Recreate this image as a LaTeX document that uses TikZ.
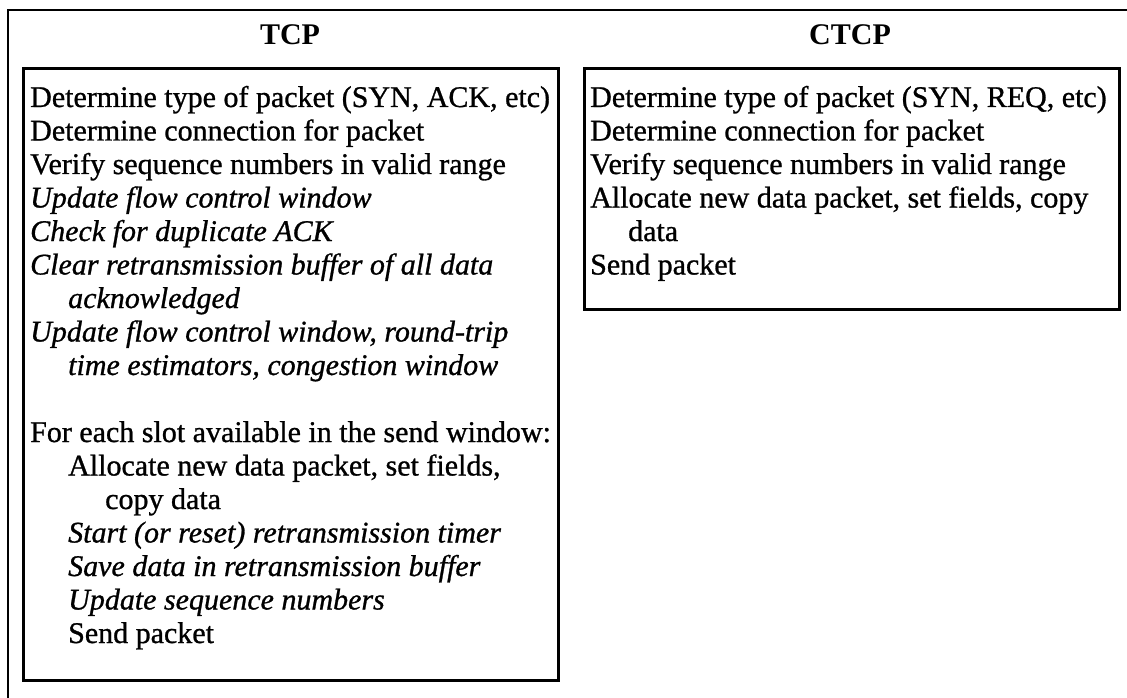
\documentclass[tikz,border=0pt]{standalone}
\usepackage{fontspec}
\setmainfont{Liberation Serif}
\newfontfamily\heavyserif[FakeBold=0.9]{Liberation Serif}
\begin{document}
\begin{tikzpicture}[x=1pt,y=-1pt,
  boxline/.style={line width=2.6pt},
  frameline/.style={line width=1.8pt},
  txt/.style={anchor=base west,inner sep=0pt,font=\fontsize{30}{33.5}\selectfont\heavyserif},
  itx/.style={txt,font=\fontsize{30}{33.5}\selectfont\heavyserif\itshape},
  ttl/.style={anchor=base,inner sep=0pt,font=\fontsize{30}{34}\selectfont\bfseries}]
\useasboundingbox (0,0) rectangle (1127,698);
% outer frame (top and left edges visible)
\coordinate (fl) at (8,698);
\coordinate (ftl) at (8,10);
\coordinate (fr) at (1127,10);
\draw[frameline] (fl) -- (ftl) -- (fr);
% titles
\node[ttl] (ttcp) at (290,45) {TCP};
\node[ttl] (tctcp) at (850,45) {CTCP};
% boxes
\node[draw,boxline,minimum width=535pt,minimum height=612pt,inner sep=0pt,anchor=north west] (tcpbox) at (22,67) {};
\node[draw,boxline,minimum width=535pt,minimum height=241pt,inner sep=0pt,anchor=north west] (ctcpbox) at (583,67) {};
% TCP text
\node[txt] (a1) at (30,107) {Determine type of packet (SYN, ACK, etc)};
\node[txt] (a2) at (30,140.5) {Determine connection for packet};
\node[txt] (a3) at (30,174) {Verify sequence numbers in valid range};
\node[itx] (a4) at (30,207.5) {Update flow control window};
\node[itx] (a5) at (30,241) {Check for duplicate ACK};
\node[itx] (a6) at (30,274.5) {Clear retransmission buffer of all data};
\node[itx] (a7) at (68,308) {acknowledged};
\node[itx] (a8) at (30,341.5) {Update flow control window, round-trip};
\node[itx] (a9) at (68,375) {time estimators, congestion window};
\node[txt] (a10) at (30,442) {For each slot available in the send window:};
\node[txt] (a11) at (68,475.5) {Allocate new data packet, set fields,};
\node[txt] (a12) at (105,509) {copy data};
\node[itx] (a13) at (68,542.5) {Start (or reset) retransmission timer};
\node[itx] (a14) at (68,576) {Save data in retransmission buffer};
\node[itx] (a15) at (68,609.5) {Update sequence numbers};
\node[txt] (a16) at (68,643) {Send packet};
% CTCP text
\node[txt] (b1) at (590,107) {Determine type of packet (SYN, REQ, etc)};
\node[txt] (b2) at (590,140.5) {Determine connection for packet};
\node[txt] (b3) at (590,174) {Verify sequence numbers in valid range};
\node[txt] (b4) at (590,207.5) {Allocate new data packet, set fields, copy};
\node[txt] (b5) at (628,241) {data};
\node[txt] (b6) at (590,274.5) {Send packet};
\end{tikzpicture}
\end{document}
